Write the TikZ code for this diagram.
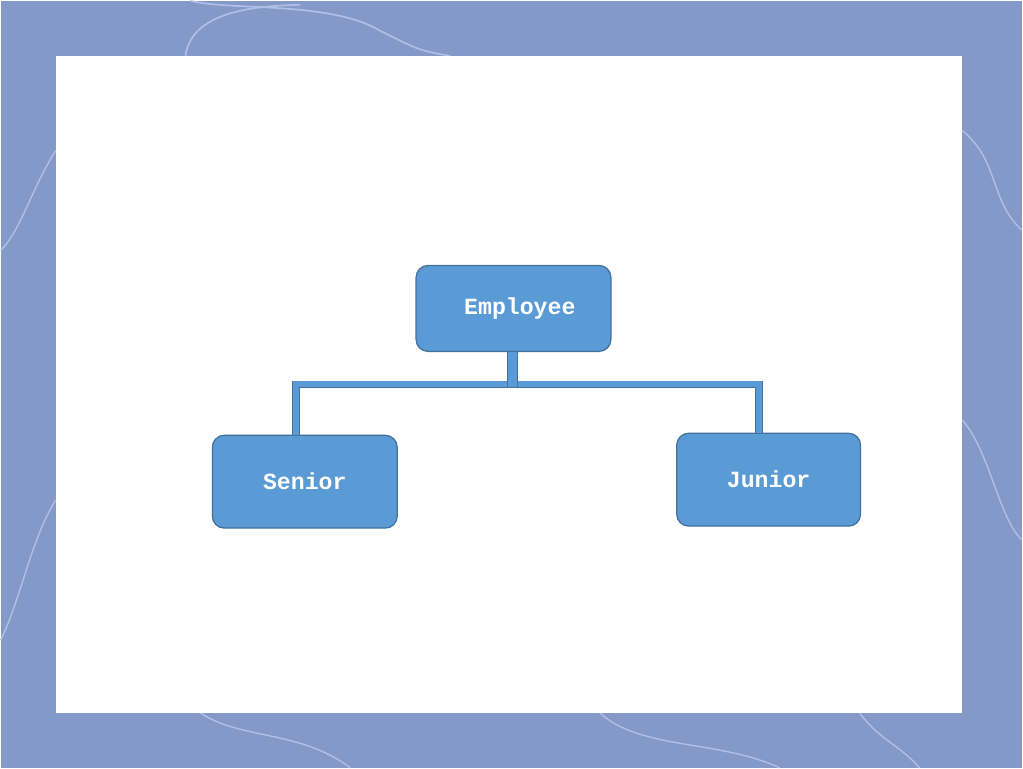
\documentclass[tikz,border=0pt]{standalone}
\usepackage{fontspec}
\setmonofont{Liberation Mono}
\usetikzlibrary{calc}
\definecolor{bgblue}{RGB}{132,153,200}
\definecolor{vein}{RGB}{176,192,228}
\definecolor{boxblue}{RGB}{91,155,213}
\definecolor{boxline}{RGB}{65,113,156}

\begin{document}
\begin{tikzpicture}[x=0.025cm, y=-0.025cm,
  box/.style = {draw=boxline, fill=boxblue, rounded corners=8.5pt, line width=0.9pt, font=\ttfamily\bfseries\fontsize{16.5}{18}\selectfont, text=white},
  bar/.style = {draw=boxline, line width=0.6pt, double=boxblue, double distance=4.2pt, line join=miter}]
      % background and sheet
      \fill [bgblue] (0, 0) rectangle (1023, 768);
      \draw [vein, line width=1.2pt] (190, 0) .. controls (230, 10) and (330, 0) .. (380, 30) .. controls (420, 50) .. (450, 55);
      \draw [vein, line width=1.2pt] (185, 55) .. controls (190, 20) and (230, 5) .. (300, 4);
      \draw [vein, line width=1pt] (55, 150) .. controls (30, 190) and (20, 230) .. (0, 250);
      \draw [vein, line width=1pt] (963, 130) .. controls (1000, 160) and (990, 200) .. (1023, 230);
      \draw [vein, line width=1pt] (963, 420) .. controls (990, 450) and (1000, 520) .. (1023, 540);
      \draw [vein, line width=1pt] (200, 713) .. controls (240, 740) and (300, 730) .. (350, 768);
      \draw [vein, line width=1pt] (600, 713) .. controls (640, 750) and (720, 740) .. (780, 768);
      \draw [vein, line width=1pt] (55, 500) .. controls (30, 540) and (20, 600) .. (0, 640);
      \draw [vein, line width=1pt] (860, 713) .. controls (880, 740) and (900, 745) .. (920, 768);
      \fill [white] (55, 55) rectangle (963, 713);

      \node [box, minimum width=138.7pt, minimum height=61.2pt] (emp) at (513.5, 308) {\hspace{9pt}Employee};
      \node [box, minimum width=131.6pt, minimum height=66.1pt] (sen) at (304.5, 481.5) {Senior\hspace{4pt}};
      \node [box, minimum width=130.9pt, minimum height=66.1pt] (jun) at (769, 479.5) {Junior};

      \coordinate (hub) at (512.5, 387);
      \coordinate (sl) at (295.5, 384);
      \coordinate (jr) at (759.5, 384);

      \draw [bar] (sl |- sen.north) -- (sl) -- (jr) -- (jr |- jun.north);
      \draw [bar, double distance=6.4pt] (hub |- emp.south) -- (hub);
    \end{tikzpicture}
\end{document}
